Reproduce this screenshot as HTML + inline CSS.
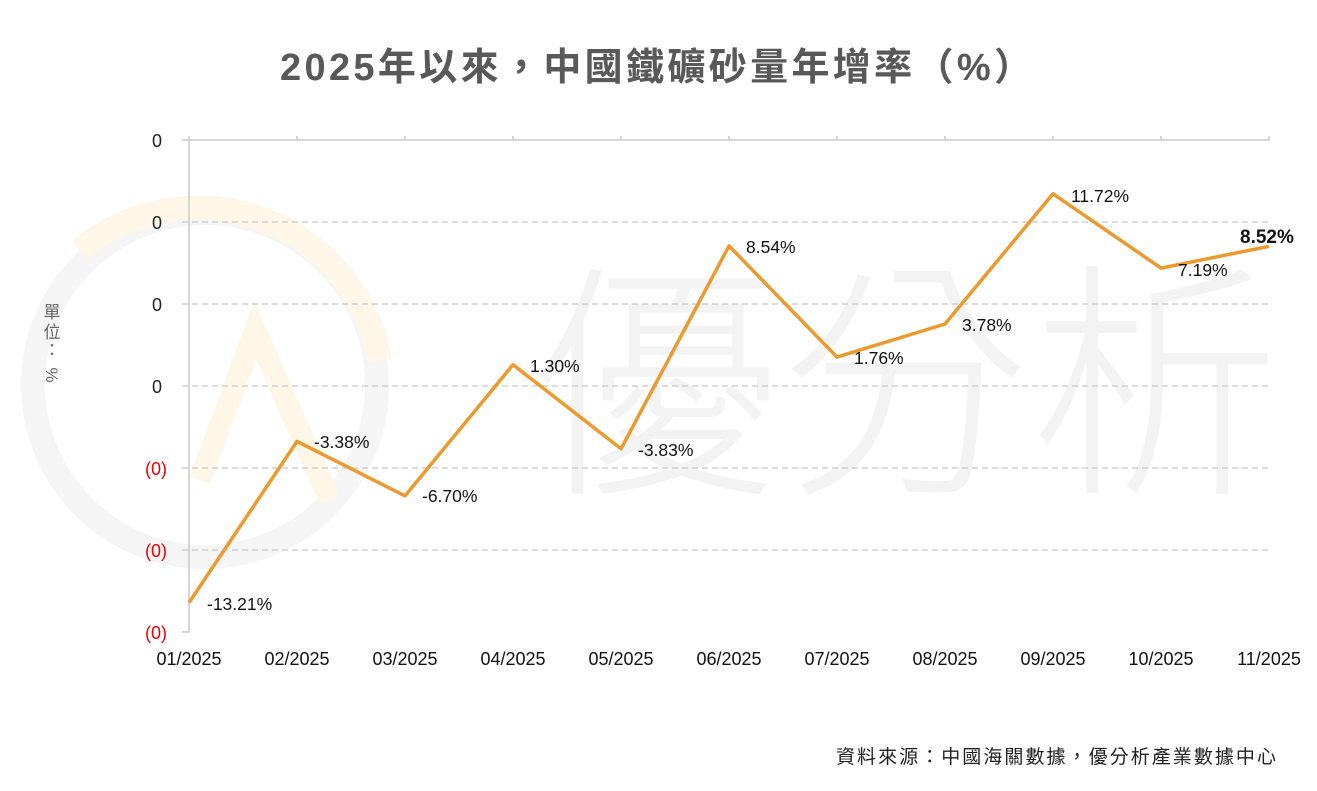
<!DOCTYPE html>
<html><head><meta charset="utf-8"><style>
html,body{margin:0;padding:0;background:#fff;}
svg{display:block;font-family:"Liberation Sans","Noto Sans CJK TC",sans-serif;}
</style></head><body>
<svg width="1317" height="791" viewBox="0 0 1317 791">
<!-- watermark -->
<circle cx="205" cy="385" r="172" fill="none" stroke="#f5f5f5" stroke-width="24"/>
<path d="M80 250 A185 185 0 0 1 380 360" fill="none" stroke="#fef6e6" stroke-width="24"/>
<path d="M200 480 L255 330 L330 500" fill="none" stroke="#fef6e6" stroke-width="22"/>
<text x="530" y="475" font-size="250" fill="#f3f3f3" font-family="'Noto Sans CJK TC',sans-serif" font-weight="300">優分析</text>
<text x="280" y="80" font-size="38" font-weight="bold" fill="#595959" textLength="752" lengthAdjust="spacing" font-family="'Liberation Sans','Noto Sans CJK TC',sans-serif">2025年以來，中國鐵礦砂量年增率（%）</text>
<!-- grid -->
<g stroke="#c8c8c8" stroke-width="1.2" stroke-dasharray="6,4">
<line x1="182" y1="222" x2="1269" y2="222"/><line x1="182" y1="304" x2="1269" y2="304"/>
<line x1="182" y1="386" x2="1269" y2="386"/><line x1="182" y1="468" x2="1269" y2="468"/>
<line x1="182" y1="550" x2="1269" y2="550"/>
</g>
<g stroke="#c8c8c8" stroke-width="1.5">
<line x1="182" y1="140" x2="1269" y2="140"/>
<line x1="189" y1="136" x2="189" y2="632"/>
<line x1="182" y1="632" x2="189" y2="632"/>
<line x1="297" y1="136" x2="297" y2="140"/><line x1="405" y1="136" x2="405" y2="140"/>
<line x1="513" y1="136" x2="513" y2="140"/><line x1="621" y1="136" x2="621" y2="140"/>
<line x1="729" y1="136" x2="729" y2="140"/><line x1="837" y1="136" x2="837" y2="140"/>
<line x1="945" y1="136" x2="945" y2="140"/><line x1="1053" y1="136" x2="1053" y2="140"/>
<line x1="1161" y1="136" x2="1161" y2="140"/><line x1="1269" y1="136" x2="1269" y2="140"/>
</g>
<g font-size="18" text-anchor="end">
<text x="162" y="147" fill="#222">0</text><text x="162" y="229" fill="#222">0</text>
<text x="162" y="311" fill="#222">0</text><text x="162" y="393" fill="#222">0</text>
<text x="167" y="475" fill="#e00">(0)</text><text x="167" y="557" fill="#e00">(0)</text>
<text x="167" y="639" fill="#e00">(0)</text>
</g>
<g font-size="17" fill="#666" text-anchor="middle" font-family="'Noto Sans CJK TC',sans-serif">
<text x="52" y="318">單</text><text x="52" y="338">位</text><text x="52" y="356">：</text><text x="52" y="381" font-family="'Liberation Sans',sans-serif" transform="rotate(90 52 375)">%</text>
</g>
<g font-size="18" fill="#111" text-anchor="middle">
<text x="189" y="665">01/2025</text><text x="297" y="665">02/2025</text><text x="405" y="665">03/2025</text>
<text x="513" y="665">04/2025</text><text x="621" y="665">05/2025</text><text x="729" y="665">06/2025</text>
<text x="837" y="665">07/2025</text><text x="945" y="665">08/2025</text><text x="1053" y="665">09/2025</text>
<text x="1161" y="665">10/2025</text><text x="1269" y="665">11/2025</text>
</g>
<polyline fill="none" stroke="#ec9a2e" stroke-width="3.5" stroke-linejoin="round" points="189,602.6 297,441.4 405,495.9 513,364.7 621,448.8 729,245.9 837,357.1 945,324 1053,193.8 1161,268.1 1269,246.3"/>
<g font-size="17.5" fill="#111">
<text x="207" y="610">-13.21%</text><text x="314" y="448">-3.38%</text><text x="422" y="502">-6.70%</text>
<text x="530" y="372">1.30%</text><text x="638" y="456">-3.83%</text><text x="746" y="253">8.54%</text>
<text x="854" y="364">1.76%</text><text x="962" y="331">3.78%</text><text x="1071" y="202">11.72%</text>
<text x="1178" y="276">7.19%</text>
<text x="1240" y="243" font-weight="bold" font-size="19">8.52%</text>
</g>
<text x="836" y="763" font-size="19" fill="#222" textLength="440" lengthAdjust="spacing" font-family="'Liberation Sans','Noto Sans CJK TC',sans-serif">資料來源：中國海關數據，優分析產業數據中心</text>
</svg>
</body></html>
